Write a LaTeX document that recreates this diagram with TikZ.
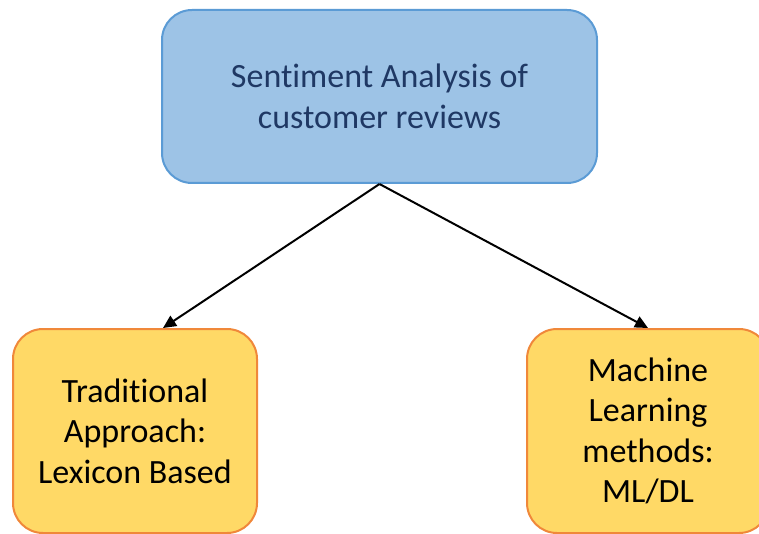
\documentclass[tikz,border=0pt]{standalone}
\usepackage{fontspec}
\setmainfont[Ligatures=NoCommon]{Carlito}
\usetikzlibrary{arrows.meta,calc}
\definecolor{topfill}{HTML}{9DC3E6}
\definecolor{topline}{HTML}{5B9BD5}
\definecolor{toptext}{HTML}{1F3864}
\definecolor{subfill}{HTML}{FFD966}
\definecolor{subline}{HTML}{F0883A}
\tikzset{
  topbox/.style={draw=topline, fill=topfill, line width=1pt, rounded corners=15pt,
    minimum width=217.5pt, minimum height=86.5pt, align=center, text=toptext,
    font=\fontsize{17}{20.5}\selectfont},
  subbox/.style={draw=subline, fill=subfill, line width=1pt, rounded corners=15pt,
    minimum height=102pt, align=center, text=black,
    font=\fontsize{17}{20.2}\selectfont},
  link/.style={line width=1pt, -{Triangle[length=6.5pt,width=6pt]}}
}
\begin{document}
\begin{tikzpicture}[x=0.5pt,y=-0.5pt]
  \useasboundingbox (0,0) rectangle (759,534);
  \node[topbox] (root) at (379.5,96.5) {Sentiment Analysis of\\customer reviews};
  \node[subbox, minimum width=122pt] (lex) at (135,431) {Traditional\\Approach:\\Lexicon Based};
  \node[subbox, minimum width=121pt] (ml) at (648,431) {Machine\\Learning\\methods:\\ML/DL};
  \draw[link] (root.south) -- ([xshift=14pt]lex.north);
  \draw[link] (root.south) -- (ml.north);
\end{tikzpicture}
\end{document}
